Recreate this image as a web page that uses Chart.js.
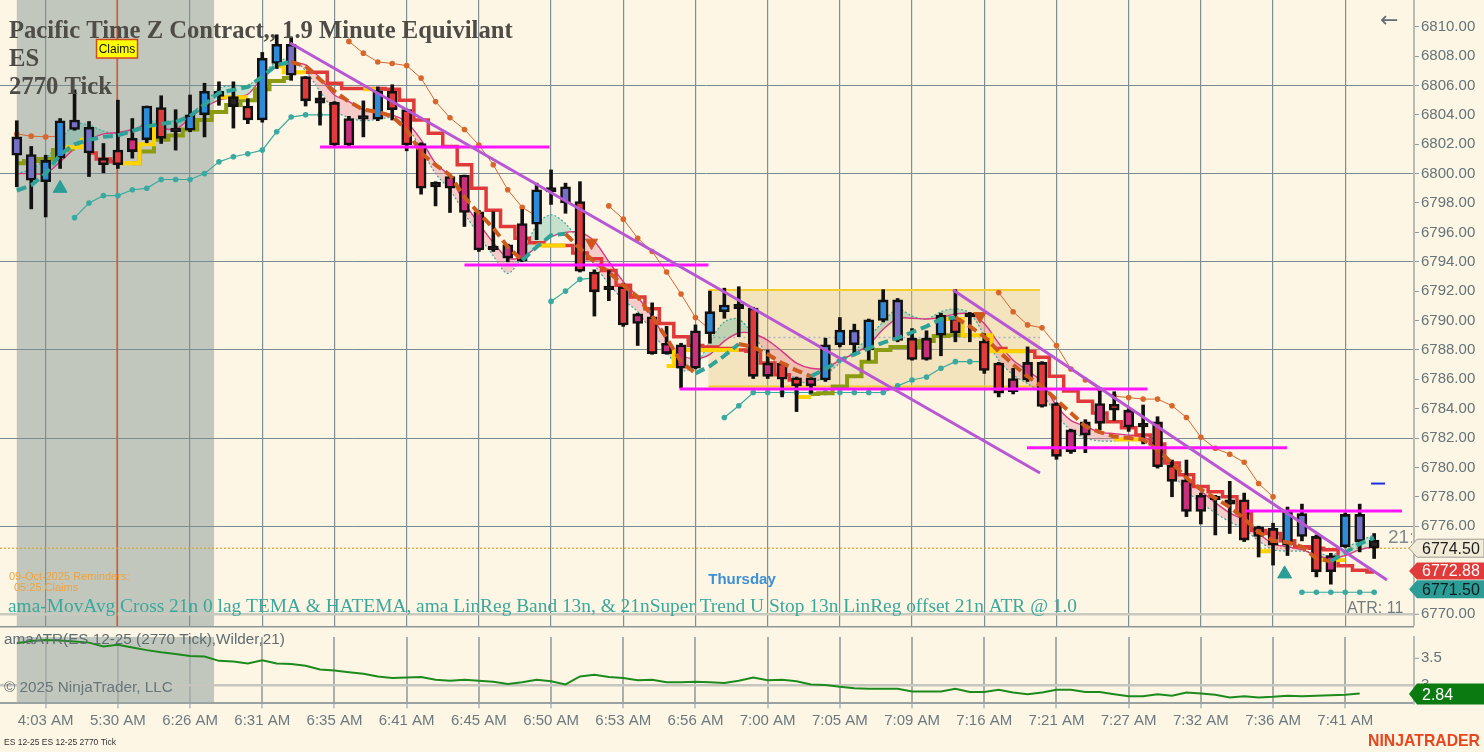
<!DOCTYPE html>
<html>
<head>
<meta charset="utf-8">
<script src="https://cdn.jsdelivr.net/npm/chart.js@4.4.0/dist/chart.umd.min.js"></script>
<style>
  html, body { margin: 0; padding: 0; background: #fdf6e4; }
  #wrap { position: relative; width: 1484px; height: 752px; overflow: hidden; }
  canvas { position: absolute; left: 0; }
  #priceChart { top: 0; width: 1484px; height: 626px; }
  #atrChart { top: 626px; width: 1484px; height: 126px; }
</style>
</head>
<body>
<div id="wrap">
  <canvas id="priceChart" width="1484" height="626"></canvas>
  <canvas id="atrChart" width="1484" height="126"></canvas>
</div>
<script>
// ES 12-25, 2770 tick bars

// x axis: one slot per bar, a time label every 5th bar
const timeLabels = ['4:03 AM', '5:30 AM', '6:26 AM', '6:31 AM', '6:35 AM', '6:41 AM', '6:45 AM',
    '6:50 AM', '6:53 AM', '6:56 AM', '7:00 AM', '7:05 AM', '7:09 AM', '7:16 AM', '7:21 AM',
    '7:27 AM', '7:32 AM', '7:36 AM', '7:41 AM'];
const labelBars = [2, 7, 12, 17, 22, 27, 32, 37, 42, 47, 52, 57, 62, 67, 72, 77, 82, 87, 92];

// price axis ticks and the ones that carry a grid line
const priceTicks = [6770, 6772, 6774, 6776, 6778, 6780, 6782, 6784, 6786, 6788, 6790,
    6792, 6794, 6796, 6798, 6800, 6802, 6804, 6806, 6808, 6810];
const priceGrid = [6776, 6782, 6788, 6794, 6800, 6806];
const atrTicks = [3, 3.5];

// candles
const barOpen = [6801.25, 6799.55, 6799.45, 6801.05, 6803.0, 6801.4, 6801.05, 6801.6, 6802.4, 6802.3,
    6804.5, 6803.1, 6802.95, 6804.0, 6805.6, 6805.25, 6804.6, 6803.65, 6807.5, 6806.7,
    6806.6, 6805.15, 6804.85, 6803.75, 6803.95, 6803.7, 6805.6, 6804.35, 6802.05, 6799.4,
    6799.8, 6799.9, 6797.4, 6795.05, 6795.15, 6796.6, 6796.55, 6799.05, 6798.0, 6798.1,
    6793.3, 6792.35, 6792.3, 6790.45, 6790.25, 6788.45, 6788.35, 6789.3, 6789.1, 6790.6,
    6791.1, 6790.85, 6787.1, 6787.1, 6786.1, 6786.1, 6785.95, 6788.35, 6788.35, 6788.0,
    6790.0, 6788.65, 6788.8, 6788.8, 6789.0, 6790.15, 6790.5, 6788.6, 6787.1, 6786.05,
    6787.15, 6787.15, 6784.35, 6782.55, 6783.1, 6784.35, 6784.3, 6783.9, 6783.0, 6783.1,
    6780.15, 6779.15, 6778.1, 6778.05, 6777.8, 6777.8, 6775.95, 6775.85, 6774.7, 6775.3,
    6775.3, 6774.0, 6774.6, 6774.95, 6775.05];
const barHigh = [6803.6, 6801.85, 6801.25, 6803.75, 6805.7, 6803.55, 6802.05, 6805.0, 6803.75, 6804.6,
    6805.3, 6804.35, 6805.35, 6806.15, 6806.25, 6806.25, 6805.1, 6808.25, 6809.45, 6809.3,
    6806.6, 6805.6, 6804.9, 6803.9, 6804.95, 6805.9, 6806.05, 6804.4, 6802.1, 6799.45,
    6799.9, 6799.9, 6797.5, 6797.4, 6795.2, 6797.55, 6799.35, 6800.25, 6799.35, 6799.45,
    6793.45, 6793.4, 6792.5, 6790.5, 6791.2, 6789.6, 6788.45, 6789.7, 6792.0, 6792.2,
    6792.3, 6790.9, 6788.0, 6787.15, 6786.15, 6786.15, 6788.8, 6790.2, 6789.75, 6790.1,
    6792.1, 6791.5, 6789.45, 6789.3, 6790.5, 6792.1, 6790.55, 6789.1, 6787.15, 6786.75,
    6788.2, 6787.2, 6784.4, 6782.6, 6783.25, 6785.2, 6785.15, 6784.0, 6784.25, 6783.45,
    6780.5, 6780.5, 6778.25, 6778.1, 6779.05, 6778.25, 6776.0, 6776.2, 6777.3, 6777.5,
    6775.4, 6774.15, 6776.9, 6777.5, 6775.5];
const barLow = [6799.1, 6797.6, 6797.05, 6800.35, 6802.95, 6799.8, 6800.05, 6800.35, 6801.05, 6802.1,
    6802.05, 6801.6, 6802.85, 6802.5, 6804.65, 6803.1, 6803.4, 6803.5, 6807.15, 6806.35,
    6804.6, 6803.3, 6801.9, 6801.9, 6802.5, 6803.6, 6803.65, 6801.55, 6798.6, 6797.8,
    6797.35, 6796.4, 6794.7, 6794.7, 6794.0, 6794.0, 6795.5, 6797.9, 6797.3, 6793.3,
    6790.3, 6791.35, 6789.6, 6788.3, 6787.7, 6787.7, 6785.4, 6786.7, 6788.45, 6790.15,
    6788.9, 6786.05, 6786.05, 6784.8, 6783.8, 6785.05, 6785.85, 6788.2, 6787.6, 6787.3,
    6789.9, 6788.55, 6787.3, 6787.3, 6787.6, 6788.55, 6788.55, 6786.4, 6784.8, 6785.0,
    6785.85, 6784.1, 6780.55, 6780.95, 6781.0, 6782.55, 6783.2, 6782.45, 6781.6, 6779.95,
    6778.0, 6776.65, 6776.15, 6775.4, 6775.5, 6774.95, 6773.9, 6773.35, 6774.0, 6775.0,
    6772.55, 6772.05, 6774.55, 6774.25, 6773.8];
const barClose = [6802.5, 6801.3, 6800.9, 6803.6, 6803.65, 6803.15, 6800.6, 6800.6, 6801.5, 6804.6,
    6802.4, 6802.85, 6804.0, 6805.6, 6805.25, 6804.55, 6803.65, 6807.85, 6808.8, 6808.8,
    6804.95, 6804.8, 6801.95, 6801.95, 6803.7, 6805.65, 6804.35, 6801.95, 6799.0, 6799.1,
    6799.0, 6797.35, 6794.8, 6794.8, 6794.25, 6794.05, 6798.9, 6798.75, 6799.1, 6793.35,
    6791.95, 6792.1, 6789.7, 6789.8, 6787.75, 6787.75, 6786.75, 6786.75, 6790.6, 6791.05,
    6790.8, 6786.2, 6786.2, 6786.0, 6785.55, 6785.55, 6788.35, 6789.35, 6789.35, 6790.05,
    6791.4, 6791.4, 6787.35, 6787.35, 6790.35, 6789.15, 6790.25, 6786.6, 6785.05, 6785.15,
    6785.95, 6784.15, 6780.75, 6781.05, 6782.2, 6783.0, 6783.9, 6782.75, 6782.75, 6780.05,
    6779.05, 6777.0, 6777.0, 6777.8, 6777.5, 6775.05, 6775.3, 6774.7, 6777.0, 6776.85,
    6772.9, 6772.9, 6776.8, 6776.8, 6774.5];
// candle colour state: B strong up, P weak up, R strong down, M weak down, K neutral
const barKind = ('PPBBPPRRMB' + 'RKBBKKRBBP' + 'RKRMKBRRRK' + 'MMMKMMBKPR' + 'RKRMRMMMBB' +
    'KRMRRMBBPB' + 'BPRMBRKRRM' + 'MRRMMMRMKR' + 'RMMKKRRRBP' + 'RMBPK').split('');

// Super Trend U stop: olive while long, red while short
const stopLong = [6800.7, 6800.85, 6801.0, 6801.6, 6801.7, null, null, null, 6800.7, 6801.5,
    6802.3, 6802.6, 6803.0, 6803.65, 6804.2, 6804.67, 6805.0, 6805.74, 6806.3, 6806.5,
    null, null, null, null, null, null, null, null, null, null,
    null, null, null, null, null, null, null, null, null, null,
    null, null, null, null, null, null, null, null, null, null,
    null, null, null, null, null, 6785.0, 6785.05, 6785.5, 6786.2, 6787.2,
    6788.0, 6788.2, 6788.2, 6788.6, 6788.95, 6789.0, 6789.0, null, null, null,
    null, null, null, null, null, null, null, null, null, null,
    null, null, null, null, null, null, null, null, null, null,
    null, null, null, null, null];
const stopShort = [null, null, null, null, null, 6801.4, 6801.0, 6800.8, null, null,
    null, null, null, null, null, null, null, null, null, null,
    6806.9, 6806.9, 6806.15, 6805.8, 6805.8, 6805.8, 6805.75, 6805.0, 6803.65, 6802.75,
    6801.85, 6800.6, 6799.0, 6797.5, 6796.4, 6795.6, 6795.3, 6795.1, 6795.1, 6794.6,
    6794.2, 6793.4, 6792.4, 6791.6, 6790.8, 6789.8, 6788.9, 6788.3, 6788.2, 6788.1,
    6788.0, 6787.9, 6787.1, 6786.3, 6785.95, null, null, null, null, null,
    null, null, null, null, null, null, null, 6788.7, 6788.1, 6787.9,
    6787.9, 6787.5, 6786.2, 6785.2, 6784.5, 6783.7, 6783.1, 6782.7, 6782.2, 6781.6,
    6780.3, 6779.5, 6778.7, 6778.35, 6778.0, 6776.9, 6775.7, 6775.5, 6775.0, 6774.6,
    6774.5, 6774.4, 6773.3, 6773.0, 6772.88];

// HATEMA (only where it shows)
const hatema = [null, null, null, 6801.8, 6801.8, 6802.3, null, 6800.7, 6800.7, 6802.0,
    6803.2, null, null, null, 6805.2, 6805.2, 6805.2, null, 6807.3, 6806.9,
    6806.9, null, null, null, 6805.75, 6805.75, null, null, null, null,
    null, null, null, null, null, null, 6795.1, 6795.1, 6795.1, null,
    null, null, null, null, null, 6786.9, 6788.0, 6788.0, 6788.0, 6788.0,
    6788.0, null, null, null, 6784.8, 6784.8, null, null, null, null,
    null, null, null, null, 6790.1, 6790.1, 6789.0, 6789.0, 6787.9, 6787.9,
    6787.9, null, null, null, null, null, 6781.9, 6781.9, 6781.9, null,
    null, null, null, null, null, null, 6774.3, 6774.3, null, null,
    6773.7, 6773.7, 6773.7, null, null];

// 0 lag TEMA (teal rising, orange falling)
const tema = [6798.85, 6799.2, 6800.0, 6801.3, 6802.0, 6802.3, 6802.5, 6802.6, 6802.9, 6803.2,
    6803.4, 6803.5, 6803.9, 6804.7, 6805.5, 6805.7, 6805.9, 6806.6, 6807.4, 6807.6,
    6807.3, 6806.4, 6805.6, 6804.9, 6804.35, 6804.2, 6803.9, 6803.0, 6801.4, 6800.6,
    6799.9, 6798.4, 6797.3, 6796.3, 6795.0, 6794.1, 6795.0, 6795.8, 6795.9, 6794.9,
    6794.0, 6793.3, 6792.4, 6791.6, 6790.3, 6788.8, 6787.2, 6786.4, 6786.9, 6787.6,
    6788.4, 6788.2, 6787.7, 6787.1, 6786.6, 6786.2, 6786.7, 6787.3, 6787.7, 6788.1,
    6788.5, 6788.8, 6789.2, 6789.6, 6790.1, 6790.2, 6789.6, 6788.9, 6787.9, 6787.0,
    6786.2, 6785.5, 6784.6, 6783.7, 6782.8, 6782.4, 6782.1, 6782.0, 6781.9, 6781.2,
    6780.3, 6779.3, 6778.5, 6777.9, 6777.3, 6776.5, 6775.6, 6775.0, 6774.9, 6774.6,
    6773.8, 6773.6, 6774.2, 6774.8, 6775.2];

// LinReg band 13n: centre line and the outer (dotted) edge
const linReg = [6800.0, 6800.0, 6800.0, 6800.8, 6801.7, 6802.3, 6802.7, 6802.8, 6803.0, 6803.3,
    6803.1, 6803.0, 6803.8, 6804.5, 6805.0, 6805.2, 6805.4, 6806.5, 6807.3, 6807.5,
    6807.4, 6806.5, 6805.35, 6804.9, 6804.35, 6804.15, 6804.0, 6803.5, 6802.3, 6800.7,
    6799.8, 6798.0, 6796.6, 6795.3, 6794.25, 6794.3, 6795.0, 6795.7, 6796.0, 6796.0,
    6795.4, 6794.0, 6792.65, 6791.6, 6790.25, 6788.7, 6787.65, 6787.4, 6787.7, 6788.6,
    6789.15, 6789.1, 6788.65, 6787.9, 6787.1, 6786.75, 6786.75, 6787.3, 6787.75, 6788.35,
    6789.4, 6790.15, 6790.15, 6790.1, 6790.2, 6790.45, 6790.45, 6789.8, 6788.45, 6787.3,
    6786.6, 6785.8, 6784.2, 6783.2, 6782.8, 6782.4, 6782.3, 6782.2, 6782.1, 6781.4,
    6780.3, 6779.2, 6778.4, 6777.6, 6776.9, 6776.4, 6775.5, 6774.8, 6774.6, 6774.4,
    6774.0, 6773.8, 6774.0, 6774.4, 6774.6];
const linRegEdge = [6800.0, 6800.3, 6801.0, 6802.2, 6803.4, 6803.3, 6802.9, 6802.7, 6802.9, 6803.5,
    6803.6, 6803.6, 6804.1, 6804.8, 6805.8, 6806.0, 6806.0, 6806.8, 6807.6, 6807.8,
    6807.0, 6805.6, 6804.3, 6803.8, 6803.6, 6803.7, 6803.8, 6803.2, 6801.7, 6800.0,
    6798.9, 6797.3, 6795.8, 6794.4, 6793.2, 6794.4, 6796.5, 6797.2, 6796.6, 6795.3,
    6793.8, 6792.5, 6791.4, 6790.6, 6789.2, 6787.9, 6786.6, 6786.9, 6788.6, 6789.9,
    6790.1, 6789.0, 6787.7, 6786.7, 6786.0, 6785.7, 6786.3, 6787.1, 6787.9, 6788.9,
    6789.9, 6790.8, 6790.3, 6790.1, 6790.6, 6790.8, 6790.5, 6789.0, 6787.3, 6786.3,
    6785.7, 6785.0, 6783.6, 6782.5, 6782.0, 6781.8, 6781.8, 6781.9, 6781.9, 6781.0,
    6779.7, 6778.4, 6777.6, 6776.9, 6776.3, 6775.8, 6775.0, 6774.4, 6774.3, 6774.3,
    6774.2, 6774.0, 6774.5, 6775.0, 6775.4];

// trailing stops drawn as dotted lines
const upperStop = [6802.7, 6802.55, 6802.5, 6802.55, null, null, null, null, null, null,
    null, null, null, null, null, null, null, null, null, null,
    null, null, null, 6809.0, 6808.2, 6807.6, 6807.5, 6807.35, 6806.5, 6804.9,
    6803.8, 6803.0, 6801.95, 6800.6, 6798.9, 6797.7, 6797.1, null, null, null,
    null, 6797.8, 6796.9, 6795.6, 6794.7, 6793.3, 6791.8, 6790.2, 6789.4, null,
    null, null, null, null, null, null, null, null, null, null,
    null, null, null, null, null, null, null, null, 6791.9, 6790.6,
    6789.7, 6789.5, 6788.3, 6786.7, 6785.95, 6785.3, 6784.85, 6784.75, 6784.65, 6784.65,
    6784.2, 6783.4, 6782.05, 6781.3, 6780.9, 6780.35, 6778.9, 6778.0, null, null,
    null, null, null, null, null];
const lowerStop = [null, null, null, null, 6797.0, 6798.0, 6798.5, 6798.5, 6798.9, 6799.0,
    6799.6, 6799.6, 6799.6, 6800.0, 6800.8, 6801.15, 6801.35, 6801.6, 6802.85, 6803.85,
    6804.0, 6804.0, 6804.0, null, null, null, null, null, null, null,
    null, null, null, null, null, null, null, 6791.3, 6792.0, 6792.8,
    6792.9, null, null, null, null, null, null, null, null, 6783.4,
    6784.2, 6785.1, 6785.1, 6785.1, 6785.1, 6785.1, 6785.1, 6785.1, 6785.1, 6785.1,
    6785.1, 6785.55, 6785.95, 6786.15, 6786.75, 6787.2, 6787.2, 6787.2, null, null,
    null, null, null, null, null, null, null, null, null, null,
    null, null, null, null, null, null, null, null, null, 6771.5,
    6771.5, 6771.5, 6771.5, 6771.5, 6771.5];

// ATR(21, Wilder)
const atr = [3.78, 3.82, 3.84, 3.83, 3.81, 3.79, 3.72, 3.75, 3.70, 3.65,
    3.61, 3.58, 3.54, 3.53, 3.45, 3.44, 3.40, 3.46, 3.40, 3.39,
    3.36, 3.29, 3.27, 3.24, 3.21, 3.16, 3.13, 3.14, 3.15, 3.10,
    3.08, 3.10, 3.08, 3.06, 3.02, 3.05, 3.10, 3.07, 3.01, 3.16,
    3.19, 3.15, 3.13, 3.09, 3.10, 3.05, 3.05, 3.06, 3.05, 3.04,
    3.08, 3.14, 3.09, 3.10, 3.07, 3.01, 3.00, 2.97, 2.94, 2.93,
    2.93, 2.93, 2.88, 2.88, 2.88, 2.93, 2.87, 2.87, 2.91, 2.86,
    2.83, 2.86, 2.91, 2.91, 2.87, 2.87, 2.83, 2.79, 2.79, 2.83,
    2.80, 2.86, 2.84, 2.82, 2.77, 2.79, 2.77, 2.78, 2.80, 2.79,
    2.80, 2.81, 2.82, 2.84, null];

// drawing objects: horizontal levels, trend lines, range box, signals
const levelPrice = [6801.81, 6793.78, 6785.34, 6781.33, 6777.04];
const levelFrom = [21.0, 31.0, 45.9, 69.96, 85.05];
const levelTo = [36.9, 47.9, 78.3, 87.97, 95.93];
const trendFromBar = [18.93, 64.84];
const trendFromPrice = [6808.89, 6792.08];
const trendToBar = [70.86, 94.89];
const trendToPrice = [6779.62, 6772.33];
const rangeBox = { fromBar: 47.9, toBar: 70.86, top: 6792.07, bottom: 6785.5, mid: 6788.85 };
const buyBars = [3, 87.8];
const buyPrices = [6799.0, 6772.75];
const sellBars = [39.8, 66.7];
const sellPrices = [6795.3, 6790.3];
const targetBar = [94.27];
const targetPrice = [6778.9];
const sessionShade = [0, 13.66];   // pre-market bars
const claimsBar = 6.94;            // economic event marker

// text
const titleLines = ['Pacific Time Z Contract,, 1.9 Minute Equivilant', 'ES', '2770 Tick'];
const studyText = 'ama-MovAvg Cross 21n 0 lag TEMA & HATEMA, ama LinReg Band 13n, & 21nSuper Trend U Stop 13n LinReg offset 21n ATR @ 1.0';
const atrTitle = 'amaATR(ES 12-25 (2770 Tick),Wilder,21)';

// ---- styling ----
const BG = '#fdf6e4';
const SANS = '"Liberation Sans", Arial, sans-serif';
const SERIF = '"Liberation Serif", "Times New Roman", serif';
const X_MIN = -1.163;
const X_MAX = 96.76;
const kindColor = { B: '#2e8bd9', P: '#7770c9', R: '#e23b3b', M: '#c92f7b', K: '#2b2222' };
const TEAL = '#2fa398';
const ORANGE = '#cf5a1e';

Chart.defaults.font.family = SANS;

function xy(values) {
    return values.map((v, i) => ({ x: i, y: v }));
}

function fitFont(ctx, text, weight, family, width) {
    ctx.font = `${weight} 100px ${family}`;
    const size = 100 * width / ctx.measureText(text).width;
    ctx.font = `${weight} ${size.toFixed(2)}px ${family}`;
}

function drawTag(ctx, left, yMid, h, text, fill, stroke, color) {
    ctx.beginPath();
    ctx.moveTo(left, yMid);
    ctx.lineTo(left + 8, yMid - h / 2);
    ctx.lineTo(1484, yMid - h / 2);
    ctx.lineTo(1484, yMid + h / 2);
    ctx.lineTo(left + 8, yMid + h / 2);
    ctx.closePath();
    ctx.fillStyle = fill;
    ctx.fill();
    if (stroke) {
        ctx.strokeStyle = stroke;
        ctx.lineWidth = 1;
        ctx.stroke();
    }
    ctx.fillStyle = color;
    ctx.font = `16px ${SANS}`;
    ctx.textAlign = 'left';
    ctx.textBaseline = 'middle';
    ctx.fillText(text, left + 13, yMid + 1);
}

// background and pre-market shading (under the grid)
const shadePlugin = {
    id: 'shade',
    beforeDraw(chart) {
        const { ctx, chartArea, scales } = chart;
        ctx.save();
        ctx.fillStyle = BG;
        ctx.fillRect(0, 0, chart.width, chart.height);
        const x0 = scales.x.getPixelForValue(sessionShade[0]);
        const x1 = scales.x.getPixelForValue(sessionShade[1]);
        ctx.fillStyle = '#c2c7bd';
        ctx.fillRect(x0, chartArea.top, x1 - x0, chartArea.bottom - chartArea.top);
        ctx.restore();
    }
};

// range box, event marker, last price line
const objectsPlugin = {
    id: 'objects',
    beforeDatasetsDraw(chart) {
        const { ctx, chartArea, scales } = chart;
        const x = scales.x, y = scales.y;
        ctx.save();
        const bx0 = x.getPixelForValue(rangeBox.fromBar), bx1 = x.getPixelForValue(rangeBox.toBar);
        const by0 = y.getPixelForValue(rangeBox.top), by1 = y.getPixelForValue(rangeBox.bottom);
        ctx.fillStyle = 'rgba(226, 200, 128, 0.38)';
        ctx.fillRect(bx0, by0, bx1 - bx0, by1 - by0);
        ctx.strokeStyle = '#f3cd2a';
        ctx.lineWidth = 2;
        ctx.beginPath();
        ctx.moveTo(bx0, by0); ctx.lineTo(bx1, by0);
        ctx.moveTo(bx0, by1); ctx.lineTo(bx1, by1);
        ctx.stroke();
        ctx.strokeStyle = '#a9b3c6';
        ctx.lineWidth = 1.5;
        ctx.setLineDash([2, 3]);
        const bym = y.getPixelForValue(rangeBox.mid);
        ctx.beginPath(); ctx.moveTo(bx0, bym); ctx.lineTo(bx1, bym); ctx.stroke();

        // event marker
        ctx.setLineDash([]);
        ctx.strokeStyle = '#d2542a';
        ctx.lineWidth = 1.2;
        const cx = x.getPixelForValue(claimsBar);
        ctx.beginPath(); ctx.moveTo(cx, chartArea.top); ctx.lineTo(cx, chartArea.bottom); ctx.stroke();

        // last price
        const ly = y.getPixelForValue(barClose[barClose.length - 1]);
        ctx.strokeStyle = '#d9a02c';
        ctx.lineWidth = 1.2;
        ctx.setLineDash([2, 2]);
        ctx.beginPath(); ctx.moveTo(chartArea.left, ly); ctx.lineTo(chartArea.right, ly); ctx.stroke();
        ctx.restore();
    }
};

// labels, title block and price markers on the right
const priceTextPlugin = {
    id: 'priceText',
    afterDraw(chart) {
        const { ctx, scales } = chart;
        const x = scales.x, y = scales.y;
        ctx.save();
        ctx.textBaseline = 'alphabetic';
        ctx.textAlign = 'left';
        ctx.fillStyle = '#4d4c47';
        fitFont(ctx, titleLines[0], 'bold', SERIF, 504);
        ctx.fillText(titleLines[0], 9, 38);
        ctx.fillText(titleLines[1], 9, 66);
        ctx.fillText(titleLines[2], 9, 94);

        // event label
        const cx = x.getPixelForValue(claimsBar);
        ctx.fillStyle = '#ffff00';
        ctx.fillRect(cx - 20.5, 39.5, 41, 18.5);
        ctx.strokeStyle = '#d0481e';
        ctx.lineWidth = 1.5;
        ctx.strokeRect(cx - 20.5, 39.5, 41, 18.5);
        ctx.fillStyle = '#111';
        ctx.font = `12px ${SANS}`;
        ctx.textAlign = 'center';
        ctx.textBaseline = 'middle';
        ctx.fillText('Claims', cx, 49.5);

        ctx.textAlign = 'left';
        ctx.fillStyle = '#f2a23a';
        ctx.font = `11px ${SANS}`;
        ctx.fillText('09-Oct-2025 Reminders:', 9, 577);
        ctx.fillText('05:25 Claims', 14, 588);

        ctx.fillStyle = '#3d8fd6';
        ctx.font = `bold 15px ${SANS}`;
        ctx.textAlign = 'center';
        ctx.fillText('Thursday', 742, 580);

        ctx.textAlign = 'left';
        ctx.textBaseline = 'alphabetic';
        ctx.fillStyle = '#3aa89c';
        fitFont(ctx, studyText, 'normal', SERIF, 1070);
        ctx.fillText(studyText, 8, 612);

        ctx.textBaseline = 'middle';
        ctx.fillStyle = '#737d80';
        ctx.font = `16px ${SANS}`;
        ctx.fillText('ATR: 11', 1347, 609);

        ctx.save();
        ctx.beginPath();
        ctx.rect(1380, 520, 32, 30);
        ctx.clip();
        ctx.fillStyle = '#80898c';
        ctx.font = `19px ${SANS}`;
        ctx.fillText('21:', 1388, 538);
        ctx.restore();

        ctx.fillStyle = '#5e6e74';
        ctx.font = `22px "DejaVu Sans", ${SANS}`;
        ctx.fillText('\u2190', 1380, 21);

        // price markers
        const last = barClose[barClose.length - 1];
        const stop = stopShort[stopShort.length - 1];
        const low = lowerStop[lowerStop.length - 1];
        drawTag(ctx, 1409, y.getPixelForValue(last), 18, last.toFixed(2), '#f2ebd7', '#9b9b92', '#1d1d1d');
        drawTag(ctx, 1409, y.getPixelForValue(stop) - 1, 17, stop.toFixed(2), '#e03a3a', null, '#ffffff');
        drawTag(ctx, 1409, y.getPixelForValue(low) - 3, 18, low.toFixed(2), '#2b9d96', null, '#0d1b1b');
        ctx.restore();
    }
};

// ---- price panel datasets ----
const bandCentre = {
    type: 'line', label: 'LinReg', data: xy(linReg), order: 7,
    borderColor: '#d8387f', borderWidth: 1.4, pointRadius: 0, tension: 0.3
};
const datasets = [];
datasets.push(bandCentre);
datasets.push({
    type: 'line', label: 'LinReg band', data: xy(linRegEdge), order: 8,
    borderColor: '#3aa99f', borderWidth: 1.2, borderDash: [2, 2], pointRadius: 0, tension: 0.3,
    fill: { target: 0, above: 'rgba(58, 168, 150, 0.28)', below: 'rgba(232, 118, 150, 0.33)' }
});
datasets.push({
    type: 'line', label: 'Upper stop', data: xy(upperStop), order: 9,
    borderColor: '#d9662b', borderWidth: 1, pointRadius: 2.8, pointBackgroundColor: '#d9662b',
    pointBorderWidth: 0
});
datasets.push({
    type: 'line', label: 'Lower stop', data: xy(lowerStop), order: 9,
    borderColor: '#3aa99f', borderWidth: 1.2, pointRadius: 2.8, pointBackgroundColor: '#3aa99f',
    pointBorderWidth: 0
});
datasets.push({
    type: 'line', label: 'Stop long', data: xy(stopLong), order: 6, stepped: 'middle',
    borderColor: '#8c9c12', borderWidth: 4, pointRadius: 0
});
datasets.push({
    type: 'line', label: 'Stop short', data: xy(stopShort), order: 6, stepped: 'middle',
    borderColor: '#e0393a', borderWidth: 3.5, pointRadius: 0
});
datasets.push({
    type: 'line', label: 'HATEMA', data: xy(hatema), order: 5, stepped: 'middle',
    borderColor: '#ffd200', borderWidth: 4, pointRadius: 0
});
datasets.push({
    type: 'bar', label: 'Wick', order: 4, grouped: false, barThickness: 3,
    data: barLow.map((l, i) => ({ x: i, y: [l, barHigh[i]] })),
    backgroundColor: '#111111'
});
datasets.push({
    type: 'bar', label: 'Body', order: 3, grouped: false, barThickness: 10, minBarLength: 3,
    data: barOpen.map((o, i) => ({ x: i, y: [o, barClose[i]] })),
    backgroundColor: c => kindColor[barKind[c.dataIndex]],
    borderColor: '#111111', borderWidth: 2.6, borderSkipped: false
});
datasets.push({
    type: 'line', label: 'TEMA', data: xy(tema), order: 2,
    borderWidth: 4, borderDash: [10, 5], pointRadius: 0, borderColor: TEAL,
    segment: { borderColor: c => (c.p1.parsed.y < c.p0.parsed.y ? ORANGE : TEAL) }
});
levelPrice.forEach((p, k) => {
    datasets.push({
        type: 'line', label: 'Level ' + k, order: 1, pointRadius: 0,
        borderColor: '#ff14ff', borderWidth: 3,
        data: [{ x: levelFrom[k], y: p }, { x: levelTo[k], y: p }]
    });
});
trendFromBar.forEach((b, k) => {
    datasets.push({
        type: 'line', label: 'Trend ' + k, order: 0, pointRadius: 0,
        borderColor: '#b857d4', borderWidth: 3,
        data: [{ x: b, y: trendFromPrice[k] }, { x: trendToBar[k], y: trendToPrice[k] }]
    });
});
datasets.push({
    type: 'scatter', label: 'Buy', order: 0, pointStyle: 'triangle', pointRadius: 8,
    backgroundColor: '#2a9d96', borderColor: '#2a9d96',
    data: buyBars.map((b, k) => ({ x: b, y: buyPrices[k] }))
});
datasets.push({
    type: 'scatter', label: 'Sell', order: 0, pointStyle: 'triangle', pointRadius: 7, rotation: 180,
    backgroundColor: '#d0561c', borderColor: '#d0561c',
    data: sellBars.map((b, k) => ({ x: b, y: sellPrices[k] }))
});
datasets.push({
    type: 'scatter', label: 'Target', order: 0, pointStyle: 'line', pointRadius: 7,
    borderColor: '#1b2fe0', borderWidth: 2,
    data: targetBar.map((b, k) => ({ x: b, y: targetPrice[k] }))
});

const xGridTicks = s => { s.ticks = labelBars.map(v => ({ value: v })); };
// price labels that sit behind the marker tags are not shown
const hiddenPriceLabels = [6772, 6774];

new Chart(document.getElementById('priceChart'), {
    type: 'bar',
    data: { datasets: datasets },
    plugins: [shadePlugin, objectsPlugin, priceTextPlugin],
    options: {
        responsive: false,
        animation: false,
        layout: { padding: 0, autoPadding: false },
        plugins: { legend: { display: false }, tooltip: { enabled: false } },
        scales: {
            x: {
                type: 'linear', min: X_MIN, max: X_MAX, offset: false,
                grid: { offset: false, color: '#7f8f96', lineWidth: 1.2, drawTicks: false },
                border: { display: false },
                ticks: { display: false },
                afterBuildTicks: xGridTicks,
                afterFit: s => { s.height = 0; }
            },
            y: {
                position: 'right', min: 6769.203, max: 6811.818,
                afterBuildTicks: s => { s.ticks = priceTicks.map(v => ({ value: v })); },
                afterFit: s => { s.width = 70; s.paddingTop = 0; s.paddingBottom = 0; },
                ticks: {
                    callback: v => (hiddenPriceLabels.includes(v) ? '' : v.toFixed(2)),
                    color: '#647479', font: { size: 15 }, padding: 2
                },
                grid: {
                    color: c => (c.tick.value === 6770 ? '#c9c9c0' :
                        (priceGrid.includes(c.tick.value) ? '#7c8c93' : 'rgba(0,0,0,0)')),
                    lineWidth: c => (c.tick.value === 6770 ? 2.5 : 1),
                    tickColor: '#8d9ba0', tickWidth: 1, tickLength: 5
                },
                border: { color: '#b9bcb6', width: 2 }
            }
        }
    }
});

// ---- ATR panel ----
const atrTextPlugin = {
    id: 'atrText',
    afterDraw(chart) {
        const { ctx, chartArea, scales } = chart;
        ctx.save();
        ctx.strokeStyle = '#8e9696';
        ctx.lineWidth = 2;
        ctx.beginPath(); ctx.moveTo(0, 0.5); ctx.lineTo(chartArea.right, 0.5); ctx.stroke();

        ctx.textAlign = 'left';
        ctx.textBaseline = 'middle';
        ctx.fillStyle = '#5d6d72';
        fitFont(ctx, atrTitle, 'normal', SANS, 281);
        ctx.fillText(atrTitle, 4, 14);
        ctx.fillStyle = '#66767b';
        fitFont(ctx, '\u00a9 2025 NinjaTrader, LLC', 'normal', SANS, 169);
        ctx.fillText('\u00a9 2025 NinjaTrader, LLC', 4, 62);
        ctx.fillStyle = '#333333';
        fitFont(ctx, 'ES 12-25 ES 12-25 2770 Tick', 'normal', SANS, 112);
        ctx.fillText('ES 12-25 ES 12-25 2770 Tick', 4, 116.5);
        ctx.fillStyle = '#e8461e';
        ctx.textAlign = 'right';
        fitFont(ctx, 'NINJATRADER', 'bold', SANS, 112);
        ctx.fillText('NINJATRADER', 1480, 115.5);

        const lastAtr = atr.filter(v => v !== null).pop();
        drawTag(ctx, 1409, scales.y.getPixelForValue(lastAtr) + 0.5, 21, lastAtr.toFixed(2), '#0b7a10', null, '#ffffff');
        ctx.restore();
    }
};

new Chart(document.getElementById('atrChart'), {
    type: 'line',
    data: {
        datasets: [{
            label: 'ATR', data: xy(atr), borderColor: '#1d8a1d', borderWidth: 2, pointRadius: 0, tension: 0
        }]
    },
    plugins: [shadePlugin, atrTextPlugin],
    options: {
        responsive: false,
        animation: false,
        layout: { padding: 0, autoPadding: false },
        plugins: { legend: { display: false }, tooltip: { enabled: false } },
        scales: {
            x: {
                type: 'linear', min: X_MIN, max: X_MAX, offset: false,
                afterBuildTicks: xGridTicks,
                afterFit: s => { s.height = 48.7; },
                grid: { color: '#a9b0ac', lineWidth: 2, tickLength: 5, tickColor: '#8d9ba0', tickWidth: 1 },
                border: { color: '#9aa2a2', width: 2 },
                ticks: {
                    autoSkip: false, maxRotation: 0, padding: 4, color: '#6a7a80', font: { size: 15 },
                    callback: v => timeLabels[labelBars.indexOf(v)]
                }
            },
            y: {
                position: 'right', min: 2.6597, max: 3.8946,
                afterBuildTicks: s => { s.ticks = atrTicks.map(v => ({ value: v })); },
                afterFit: s => { s.width = 70; },
                ticks: { callback: v => String(v), color: '#647479', font: { size: 15 }, padding: 2 },
                grid: {
                    color: c => (c.tick.value === 3 ? '#c6c6be' : 'rgba(0,0,0,0)'),
                    lineWidth: 2.5, tickColor: '#8d9ba0', tickWidth: 1, tickLength: 5
                },
                border: { color: '#b9bcb6', width: 2 }
            }
        }
    }
});
</script>
</body>
</html>
